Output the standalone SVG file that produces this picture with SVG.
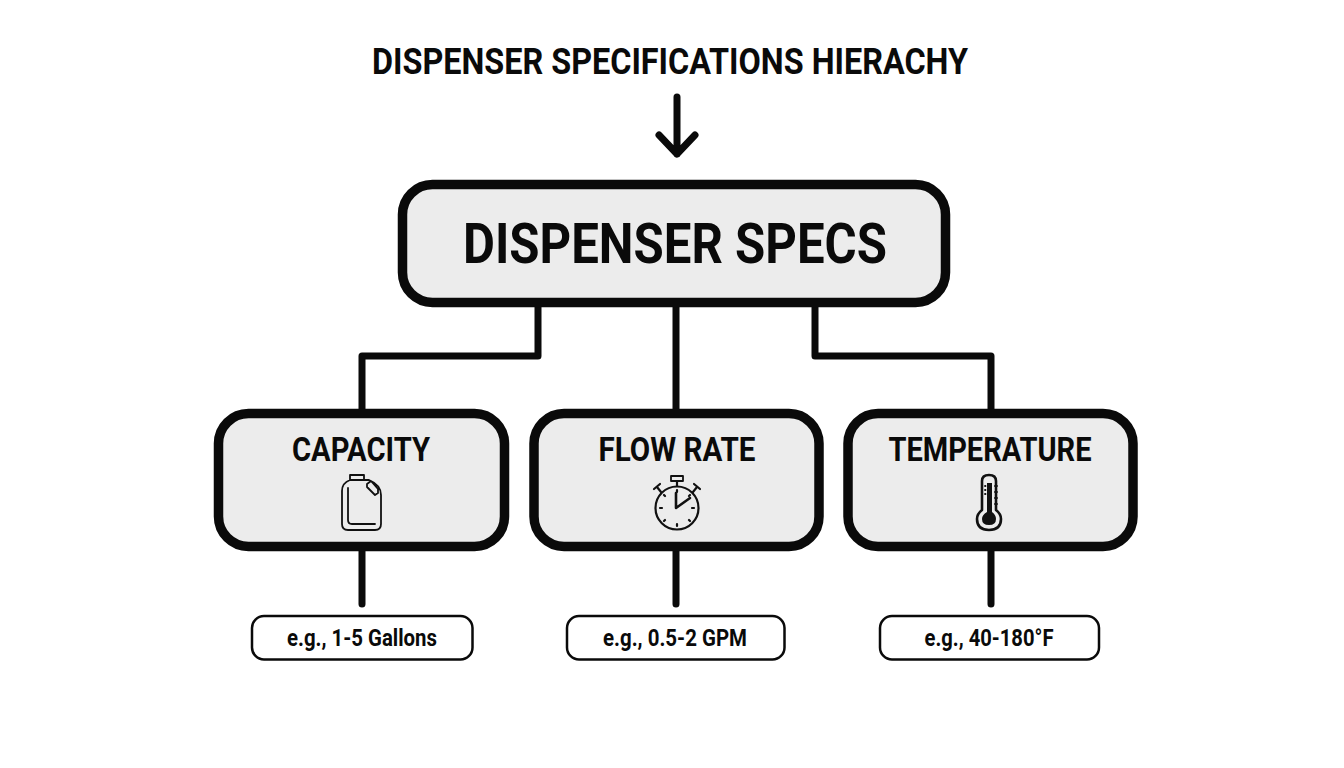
<svg xmlns="http://www.w3.org/2000/svg" width="1344" height="768" viewBox="0 0 1344 768">
<style>
text{font-family:Roboto,"Liberation Sans",sans-serif;font-weight:700;fill:#0a0a0a;text-anchor:middle}
.box{fill:#ececec;stroke:#0a0a0a;stroke-width:9.5}
.val{fill:#fff;stroke:#0a0a0a;stroke-width:2.5}
.con{fill:none;stroke:#0a0a0a;stroke-width:7;stroke-linecap:round;stroke-linejoin:round}
.ico{fill:none;stroke:#111;stroke-width:1.8;stroke-linecap:round;stroke-linejoin:round}
.h{font-size:33.5px}
.v{font-size:23px}
</style>
<rect width="1344" height="768" fill="#fff"/>
<g id="title"><text x="670" y="74" font-size="36.5" textLength="596" lengthAdjust="spacingAndGlyphs">DISPENSER SPECIFICATIONS HIERACHY</text></g>
<g id="connectors">
<path class="con" d="M677 97V154M659 135L677 154L695 135"/>
<path class="con" d="M538 304V356H362V412"/>
<path class="con" d="M676 304V412"/>
<path class="con" d="M815 304V356H991V412"/>
<path class="con" d="M362 548V604"/>
<path class="con" d="M676 548V604"/>
<path class="con" d="M991 548V604"/>
</g>
<g id="root"><rect class="box" x="402.500" y="184.500" width="543" height="118" rx="30"/><text x="675" y="263" font-size="56" textLength="424" lengthAdjust="spacingAndGlyphs">DISPENSER SPECS</text></g>
<g id="capacity"><rect class="box" x="218.500" y="413.500" width="286" height="133" rx="30"/><text class="h" x="361" y="461" textLength="138" lengthAdjust="spacingAndGlyphs">CAPACITY</text>
<path class="ico" d="M350 480V475H364V480M350 480H369Q381 485 381 495V524Q381 530 375 530H348Q342 530 342 524V491Q342 483 350 480ZM348 488V520Q348 524 352 524H375M367 484L371 481L378 489V493L375 495L367 487Z"/></g>
<g id="flow"><rect class="box" x="534" y="413.500" width="285" height="133" rx="30"/><text class="h" x="677" y="461" textLength="157" lengthAdjust="spacingAndGlyphs">FLOW RATE</text>
<g class="ico"><circle cx="677" cy="508" r="21.500" stroke-width="2.200"/><rect x="671" y="476" width="12" height="5"/><path d="M677 481V486M661 492L657 487M654 489L660 484M693 492L697 487M700 489L694 484" stroke-width="2.200"/><path d="M676 493V508L690 498" stroke-width="2.600"/><path stroke-width="2.200" d="M677 490V492M677 524V526M660 508H662M692 508H694M664 495L665 496M690 495L689 496M664 521L665 520M690 521L689 520"/></g></g>
<g id="temperature"><rect class="box" x="848" y="413.500" width="285" height="133" rx="30"/><text class="h" x="990" y="461" textLength="203" lengthAdjust="spacingAndGlyphs">TEMPERATURE</text>
<g class="ico"><path stroke-width="2.600" d="M982 510V481Q982 475 989 475Q996 475 996 481V510Q1001 514 1001 519Q1001 530 989 530Q977 530 977 519Q977 514 982 510Z"/><path stroke="none" fill="#111" d="M987 483H992V512Q996 515 996 519Q996 525 989 525Q982 525 982 519Q982 515 987 512Z"/><path d="M985 486H985.500M985 490H985.500M985 494H985.500M995 486H997M995 492H997M995 498H997M995 504H997"/></g></g>
<g id="val1"><rect class="val" x="252" y="616" width="220.500" height="43.500" rx="12"/><text class="v" x="362" y="646" textLength="150" lengthAdjust="spacingAndGlyphs">e.g., 1-5 Gallons</text></g>
<g id="val2"><rect class="val" x="567" y="616" width="217.500" height="43.500" rx="12"/><text class="v" x="675" y="646" textLength="144" lengthAdjust="spacingAndGlyphs">e.g., 0.5-2 GPM</text></g>
<g id="val3"><rect class="val" x="880" y="616" width="219" height="43.500" rx="12"/><text class="v" x="989" y="646" textLength="129" lengthAdjust="spacingAndGlyphs">e.g., 40-180°F</text></g>
</svg>
